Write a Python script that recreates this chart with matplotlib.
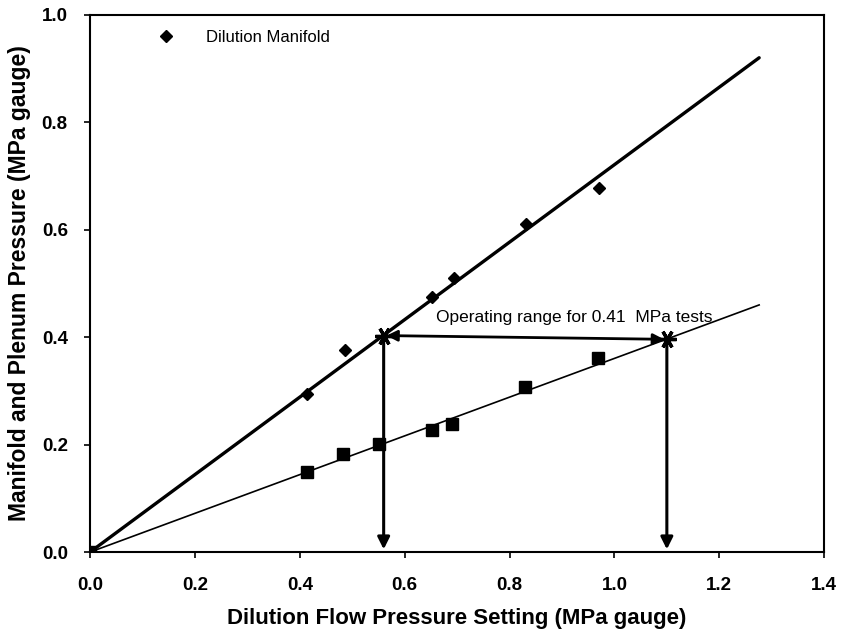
import matplotlib
matplotlib.use("Agg")
import matplotlib.pyplot as plt

# manifold (diamonds) and plenum (squares) readings, MPa gauge
man_x = [0.0, 0.413, 0.486, 0.653, 0.695, 0.832, 0.971]
man_y = [0.0, 0.294, 0.376, 0.475, 0.510, 0.611, 0.678]
plen_x = [0.0, 0.413, 0.482, 0.552, 0.653, 0.690, 0.829, 0.968]
plen_y = [0.0, 0.149, 0.182, 0.201, 0.227, 0.238, 0.307, 0.361]

# fitted lines
fit_x = [0.0, 1.276]
man_fit = [0.0, 0.92]
plen_fit = [0.0, 0.46]

# operating range end points
lo_x, lo_y = 0.56, 0.403
hi_x, hi_y = 1.10, 0.396

plt.rcParams["font.family"] = ["Liberation Sans", "DejaVu Sans"]

fig = plt.figure(figsize=(8.41, 6.42), dpi=100)
ax = fig.add_axes([0.107, 0.140, 0.873, 0.837])

ax.plot(fit_x, man_fit, color="black", lw=2.4, solid_capstyle="round")
ax.plot(fit_x, plen_fit, color="black", lw=1.2)
ax.plot(man_x, man_y, ls="none", marker="D", ms=6, color="black",
        label="Dilution Manifold")
ax.plot(plen_x, plen_y, ls="none", marker="s", ms=9, color="black")

arr = dict(arrowstyle="-|>", color="black", lw=2.2, mutation_scale=18)
ax.annotate("", xy=(lo_x, 0.0), xytext=(lo_x, lo_y), arrowprops=arr)
ax.annotate("", xy=(hi_x, 0.0), xytext=(hi_x, hi_y), arrowprops=arr)
ax.annotate("", xy=(hi_x, hi_y), xytext=(lo_x, lo_y),
            arrowprops=dict(arrowstyle="<|-|>", color="black", lw=2.0,
                            mutation_scale=16))
ax.plot([lo_x, hi_x], [lo_y, hi_y], ls="none", marker=(6, 2, 30), ms=13,
        mew=2.4, color="black")
ax.text(0.66, 0.437, "Operating range for 0.41  MPa tests", fontsize=12.5,
        ha="left", va="center")

ax.set_xlim(0, 1.4)
ax.set_ylim(0, 1.0)
ax.set_xticks([0.0, 0.2, 0.4, 0.6, 0.8, 1.0, 1.2, 1.4])
ax.set_yticks([0.0, 0.2, 0.4, 0.6, 0.8, 1.0])
ax.xaxis.set_major_formatter(matplotlib.ticker.FormatStrFormatter("%.1f"))
ax.yaxis.set_major_formatter(matplotlib.ticker.FormatStrFormatter("%.1f"))
ax.tick_params(direction="out", length=4, width=1.2, labelsize=13.5)
ax.tick_params(axis="x", pad=14)
ax.tick_params(axis="y", pad=12)
for lab in ax.get_xticklabels() + ax.get_yticklabels():
    lab.set_fontweight("bold")
for sp in ax.spines.values():
    sp.set_linewidth(1.5)

ax.set_xlabel("Dilution Flow Pressure Setting (MPa gauge)", fontsize=16,
              fontweight="bold", labelpad=10)
ax.set_ylabel("Manifold and Plenum Pressure (MPa gauge)", fontsize=16.5,
              fontweight="bold", labelpad=8)

ax.legend(loc="upper left", bbox_to_anchor=(0.06, 1.0), frameon=False,
          fontsize=12, handletextpad=1.4)

fig.savefig("out.png", dpi=100)
